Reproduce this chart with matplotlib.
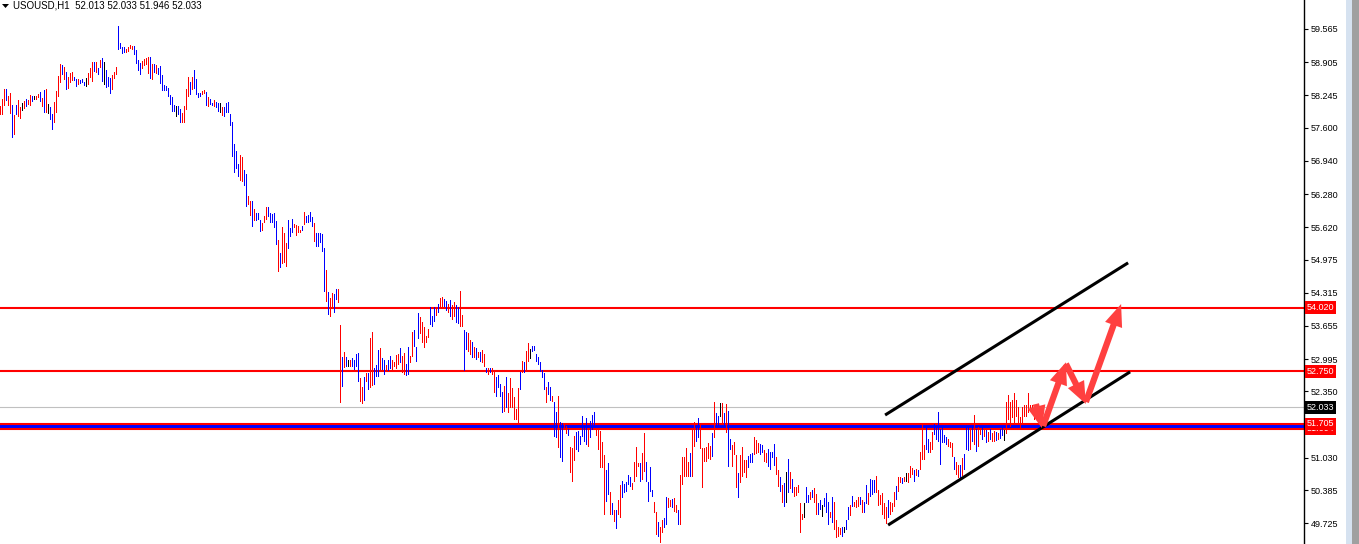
import matplotlib
matplotlib.use("Agg")
import matplotlib.pyplot as plt
import matplotlib.transforms as mtransforms
from matplotlib.patches import Rectangle
import numpy as np

# hourly bars, oldest first (high, low, colour code r/b/k)
highs = [
    58.03, 58.17, 58.37, 58.37, 58.23, 58.29, 58.05, 57.85, 58.05, 58.15,
    58.01, 58.09, 58.13, 58.17, 58.15, 58.25, 58.23, 58.23, 58.23, 58.27,
    58.31, 58.19, 58.35, 58.37, 58.07, 58.01, 57.87, 58.11, 58.33, 58.63,
    58.87, 58.85, 58.81, 58.71, 58.61, 58.69, 58.71, 58.61, 58.57, 58.57,
    58.55, 58.57, 58.51, 58.59, 58.69, 58.79, 58.91, 58.91, 58.91, 58.79,
    58.95, 58.99, 58.91, 58.75, 58.61, 58.59, 58.65, 58.71, 58.81, 59.62,
    59.28, 59.20, 59.20, 59.16, 59.20, 59.24, 59.22, 59.22, 59.15, 58.95,
    58.89, 58.93, 58.97, 58.99, 59.01, 59.01, 58.87, 58.87, 58.85, 58.79,
    58.83, 58.65, 58.45, 58.43, 58.39, 58.25, 58.21, 58.05, 58.03, 58.03,
    57.97, 57.89, 58.03, 58.37, 58.61, 58.51, 58.61, 58.75, 58.57, 58.29,
    58.29, 58.33, 58.35, 58.31, 58.21, 58.17, 58.09, 58.15, 58.11, 58.09,
    58.09, 58.01, 58.01, 58.09, 58.11, 57.87, 57.71, 57.27, 57.14, 56.88,
    57.06, 57.02, 56.76, 56.68, 56.24, 56.14, 56.14, 55.98, 55.90, 55.90,
    55.76, 55.70, 55.84, 56.02, 56.02, 55.90, 55.88, 55.90, 55.74, 55.36,
    55.11, 55.62, 55.50, 55.30, 55.76, 55.60, 55.78, 55.68, 55.66, 55.64,
    55.56, 55.64, 55.92, 55.84, 55.86, 55.92, 55.82, 55.70, 55.50, 55.50,
    55.50, 55.48, 55.20, 54.77, 54.33, 54.21, 54.31, 54.29, 54.39, 54.39,
    53.67, 53.04, 53.14, 53.04, 52.98, 52.98, 53.02, 52.98, 53.10, 53.12,
    52.62, 52.44, 52.64, 52.72, 52.72, 53.41, 53.53, 52.82, 52.88, 53.17,
    53.21, 53.02, 52.98, 52.88, 52.98, 53.06, 52.98, 52.94, 53.08, 53.10,
    53.21, 53.06, 53.12, 52.90, 53.23, 53.06, 53.53, 53.57, 53.23, 53.91,
    53.83, 53.73, 53.63, 53.45, 53.59, 54.03, 53.85, 54.03, 54.03, 54.09,
    54.21, 54.23, 54.19, 54.15, 54.09, 54.17, 54.07, 54.13, 54.07, 54.03,
    54.35, 53.87, 53.57, 53.53, 53.51, 53.37, 53.33, 53.23, 53.21, 53.14,
    53.14, 53.18, 53.10, 52.82, 52.82, 52.82, 52.82, 52.74, 52.64, 52.68,
    52.50, 52.34, 52.46, 52.64, 52.32, 52.62, 52.42, 52.24, 52.00, 52.42,
    52.74, 52.96, 52.94, 53.16, 53.31, 53.19, 53.25, 53.25, 53.10, 53.04,
    52.94, 52.78, 52.72, 52.44, 52.54, 52.44, 52.26, 52.14, 51.94, 52.26,
    51.74, 51.72, 51.68, 51.66, 51.60, 51.24, 51.22, 51.46, 51.54, 51.56,
    51.46, 51.86, 51.68, 51.82, 51.62, 51.76, 51.88, 51.94, 51.62, 51.58,
    51.56, 51.34, 51.09, 50.79, 50.93, 50.35, 50.13, 49.99, 49.99, 50.19,
    50.49, 50.57, 50.51, 50.55, 50.69, 50.65, 50.53, 50.95, 51.24, 50.93,
    50.93, 51.13, 51.52, 50.95, 50.55, 50.85, 50.39, 50.15, 49.95, 49.75,
    49.65, 49.79, 49.83, 50.25, 50.23, 50.19, 50.21, 50.23, 50.09, 49.99,
    50.69, 51.05, 51.05, 51.22, 50.95, 51.13, 51.62, 51.74, 51.64, 51.82,
    51.72, 51.22, 51.22, 51.24, 51.32, 51.26, 51.52, 52.14, 51.92, 51.86,
    52.12, 52.12, 51.92, 52.10, 51.96, 51.40, 51.28, 51.34, 51.09, 50.73,
    51.09, 51.24, 50.99, 50.99, 51.07, 51.11, 51.13, 51.44, 51.38, 51.32,
    51.30, 51.28, 51.18, 51.13, 51.20, 51.15, 51.15, 51.30, 51.05, 50.79,
    50.65, 50.49, 50.53, 50.75, 51.01, 50.75, 50.61, 50.45, 50.45, 50.49,
    50.13, 49.91, 50.13, 50.45, 50.29, 50.35, 50.39, 50.43, 50.31, 50.13,
    50.19, 50.09, 50.23, 50.33, 50.15, 49.95, 50.25, 50.15, 49.79, 49.65,
    49.63, 49.65, 49.65, 49.79, 50.05, 50.09, 50.27, 50.15, 50.19, 50.25,
    50.25, 50.19, 50.15, 50.49, 50.33, 50.61, 50.59, 50.59, 50.67, 50.39,
    50.29, 50.33, 50.13, 50.05, 50.19, 50.15, 50.13, 50.35, 50.47, 50.65,
    50.65, 50.63, 50.65, 50.73, 50.73, 50.87, 50.83, 50.79, 50.81, 50.79,
    51.15, 51.70, 51.28, 51.64, 51.40, 51.34, 51.54, 51.70, 51.64, 51.94,
    51.60, 51.64, 51.48, 51.44, 51.40, 51.34, 51.32, 51.05, 50.95, 50.89,
    50.89, 51.03, 51.11, 51.64, 51.64, 51.62, 51.68, 51.88, 51.60, 51.64,
    51.62, 51.64, 51.58, 51.58, 51.54, 51.60, 51.52, 51.56, 51.54, 51.52,
    51.60, 51.64, 51.58, 52.14, 52.28, 52.14, 52.18, 52.32, 52.18, 52.04,
    51.84, 52.04, 52.08, 52.08, 52.32, 52.08, 52.08, 52.04, 52.04,
]
lows = [
    57.85, 57.85, 58.03, 58.13, 58.03, 57.87, 57.39, 57.45, 57.85, 57.81,
    57.77, 57.93, 57.97, 58.01, 58.05, 58.03, 58.11, 58.15, 58.15, 58.19,
    58.11, 58.01, 57.89, 57.89, 57.87, 57.75, 57.55, 57.69, 57.89, 58.21,
    58.49, 58.65, 58.55, 58.35, 58.37, 58.49, 58.53, 58.53, 58.41, 58.45,
    58.47, 58.49, 58.43, 58.41, 58.45, 58.59, 58.51, 58.71, 58.69, 58.65,
    58.79, 58.51, 58.45, 58.39, 58.41, 58.27, 58.35, 58.57, 58.65, 59.15,
    59.16, 59.07, 59.09, 59.09, 59.11, 59.16, 59.15, 59.05, 58.87, 58.73,
    58.65, 58.77, 58.83, 58.85, 58.67, 58.57, 58.55, 58.69, 58.67, 58.65,
    58.47, 58.33, 58.33, 58.33, 58.21, 58.05, 57.91, 57.91, 57.81, 57.85,
    57.69, 57.69, 57.69, 57.95, 58.21, 58.25, 58.35, 58.37, 58.25, 58.19,
    58.21, 58.25, 58.27, 58.03, 58.01, 58.05, 58.03, 58.01, 57.99, 57.91,
    57.89, 57.83, 57.81, 57.89, 57.89, 57.63, 57.02, 56.70, 56.78, 56.62,
    56.54, 56.52, 56.44, 56.02, 56.06, 55.84, 55.62, 55.74, 55.74, 55.76,
    55.52, 55.54, 55.70, 55.76, 55.82, 55.70, 55.70, 55.60, 55.26, 54.73,
    54.81, 54.89, 54.91, 54.83, 55.18, 55.42, 55.50, 55.60, 55.44, 55.50,
    55.50, 55.54, 55.66, 55.70, 55.70, 55.72, 55.62, 55.32, 55.22, 55.22,
    55.30, 55.13, 54.33, 54.13, 53.87, 53.83, 54.03, 53.91, 54.17, 54.11,
    52.12, 52.44, 52.82, 52.84, 52.84, 52.84, 52.84, 52.78, 52.84, 52.54,
    52.14, 52.10, 52.16, 52.54, 52.38, 52.42, 52.46, 52.48, 52.64, 52.64,
    52.78, 52.78, 52.68, 52.76, 52.76, 52.80, 52.76, 52.84, 52.80, 52.88,
    52.92, 52.72, 52.68, 52.66, 52.68, 52.92, 53.04, 53.23, 52.94, 53.39,
    53.49, 53.31, 53.21, 53.31, 53.41, 53.67, 53.63, 53.73, 53.85, 53.91,
    54.03, 54.01, 54.03, 53.95, 53.91, 53.83, 53.77, 53.83, 53.71, 53.69,
    53.63, 53.63, 52.76, 53.17, 53.14, 53.08, 53.02, 53.02, 52.98, 53.02,
    52.94, 52.92, 52.84, 52.72, 52.68, 52.72, 52.68, 52.32, 52.24, 52.42,
    52.24, 51.92, 51.94, 52.02, 51.92, 52.02, 52.02, 51.78, 51.78, 51.72,
    52.38, 52.72, 52.72, 52.74, 52.94, 53.00, 53.14, 53.16, 52.94, 52.88,
    52.74, 52.62, 52.38, 52.12, 52.28, 52.16, 52.14, 51.44, 51.42, 51.22,
    51.03, 50.95, 51.58, 51.50, 51.46, 50.73, 50.55, 50.97, 51.18, 51.15,
    51.28, 51.44, 51.34, 51.28, 51.24, 51.42, 51.58, 51.68, 51.46, 51.18,
    50.83, 50.83, 49.89, 50.15, 50.29, 49.89, 49.89, 49.75, 49.61, 49.89,
    49.83, 50.23, 50.33, 50.35, 50.49, 50.45, 50.39, 50.55, 50.65, 50.85,
    50.55, 50.59, 50.75, 50.55, 50.15, 50.35, 50.25, 49.93, 49.49, 49.45,
    49.33, 49.53, 49.63, 49.69, 50.03, 50.05, 50.03, 49.95, 49.93, 49.69,
    49.69, 50.49, 50.65, 50.65, 50.65, 50.65, 50.65, 51.24, 51.34, 51.42,
    51.20, 50.43, 50.95, 50.95, 51.01, 50.99, 51.05, 51.42, 51.62, 51.68,
    51.84, 51.72, 51.68, 51.52, 50.85, 51.18, 50.85, 51.09, 50.43, 50.23,
    50.53, 50.65, 50.73, 50.63, 50.83, 50.93, 50.93, 51.09, 51.11, 51.13,
    51.09, 51.13, 50.95, 50.93, 50.85, 50.79, 51.03, 50.87, 50.69, 50.45,
    50.35, 50.13, 50.05, 50.13, 50.33, 50.41, 50.33, 50.25, 50.27, 50.33,
    49.53, 49.79, 49.83, 50.13, 50.13, 50.19, 50.23, 50.13, 49.89, 49.89,
    49.99, 49.85, 50.05, 49.93, 49.69, 49.83, 49.73, 49.59, 49.43, 49.45,
    49.49, 49.45, 49.53, 49.59, 49.79, 49.87, 50.05, 50.05, 50.03, 50.05,
    50.09, 49.93, 49.93, 50.11, 50.09, 50.25, 50.29, 50.33, 50.33, 50.07,
    50.09, 49.89, 49.81, 49.71, 49.83, 49.89, 49.95, 50.05, 50.19, 50.35,
    50.53, 50.51, 50.55, 50.55, 50.53, 50.63, 50.69, 50.55, 50.67, 50.65,
    50.79, 50.99, 50.99, 51.18, 51.13, 51.13, 51.18, 51.48, 51.38, 51.34,
    50.89, 51.32, 51.32, 51.28, 51.24, 51.22, 51.05, 50.79, 50.69, 50.63,
    50.61, 50.67, 50.79, 51.18, 51.17, 51.18, 51.34, 51.28, 51.15, 51.24,
    51.48, 51.38, 51.44, 51.32, 51.34, 51.38, 51.34, 51.34, 51.36, 51.38,
    51.40, 51.46, 51.36, 51.50, 51.78, 51.64, 51.82, 51.72, 51.84, 51.72,
    51.58, 51.72, 51.84, 51.84, 51.92, 51.94, 51.92, 51.78, 51.92,
]
kinds = (
    "rrrbrrbrbrrkrbrrbkrrbrbrkbbrrrrbrbrrrbbrbbbkrrrbrbrbkbbbrrrbbbbrrrrbbbbrrrrbrbrbbbbbbbbbkb"
    "brrrrbrbbbbrrbrbbrbbkrbbbbbbbbrrbbrrbrbbbrrrbbbbbrbrrrbbbrrrrbrbbbbrbbbbbrbrrb"
    "brrbrbkrbbbbrrbrbrrbbbrbbrbbrrrrbrrbbrrbbbrrrrrbbbrbrrbbrbrrbbrrbbrrbrbrbrrbrbrrbbbbrbrrr"
    "rrrbrbrrkbbbbbbbrbbrbbrbbrrbrrrbbbbbbrbbbrrrrrbbrbrbrrbbbbbrrrrbrrbbbbrrbrrbbrrbrrbrrrrrbrr"
    "bbrrrrrrbrbbkrbrbbrrrbrrrrbbbrrrbbrrbbbbrrbrbkbrbrrrrrkbbrbrrbbkbbbrbrrrrbkbbrbrrr"
    "brbbrbbbrrrrrrbrrrbrrbrkrrrbrbrrrbbrrbbbbbbbrrrbrrbrbbbrbrbrrbrbrbrrbrbbkr"
)
assert len(highs) == len(lows)
kinds = (kinds + "r" * len(highs))[:len(highs)]

# title and axis
symbol = "USOUSD,H1"
ohlc_last = [52.013, 52.033, 51.946, 52.033]
yticks = [59.565, 58.905, 58.245, 57.600, 56.940, 56.280, 55.620, 54.975,
          54.315, 53.655, 52.995, 52.350, 51.030, 50.385, 49.725]
ylim = (49.313, 60.142)

# drawn objects
levels_red = [54.020, 52.750]
zone = [51.604, 51.705]
bid = 52.033
channel_upper = [(442.2, 51.88), (563.7, 54.91)]
channel_lower = [(443.7, 49.69), (564.7, 52.74)]
arrows = [
    ((517.6, 52.10), (520.6, 51.62)),
    ((521.2, 51.66), (532.6, 52.93)),
    ((532.6, 52.90), (542.6, 52.10)),
    ((542.6, 52.14), (560.2, 54.09)),
]

W, H = 1359, 544
fig = plt.figure(figsize=(W / 100, H / 100), dpi=100)
fig.patch.set_facecolor("white")
ax = fig.add_axes([0, 0, 1304 / W, 1])
ax.set_facecolor("white")

n = len(highs)
x = np.arange(n)
col_map = {"r": "#ff0000", "b": "#0000ff", "k": "#000000"}
cols = [col_map[c] for c in kinds]
hi = np.array(highs)
lo = np.array(lows)

# levels under the bars
ax.axhline(bid, color="#c0c0c0", lw=0.8, zorder=1)
ax.axhspan(zone[0], zone[1], color="#0000ff", lw=0, zorder=1)
for lv in levels_red + zone:
    ax.axhline(lv, color="#ff0000", lw=1.5, zorder=1.5)

# one pixel wide high-low bars
ax.bar(x, hi - lo, bottom=lo, width=0.6, color=cols, lw=0, antialiased=False, zorder=2)

for seg in (channel_upper, channel_lower):
    (x0, y0), (x1, y1) = seg
    ax.plot([x0, x1], [y0, y1], color="black", lw=2.2, solid_capstyle="butt", zorder=3)

for tail, head in arrows:
    ax.annotate("", xy=head, xytext=tail,
                arrowprops=dict(arrowstyle="simple,head_length=1.6,head_width=1.3,tail_width=0.45",
                                color="#ff4040", mutation_scale=10, shrinkA=0, shrinkB=0, lw=0),
                zorder=4)

ax.set_xlim(-0.35, 1304 / 2 - 0.35)
ax.set_ylim(*ylim)
ax.set_xticks([])
ax.yaxis.tick_right()
ax.set_yticks(yticks)
ax.set_yticklabels([f"{t:.3f}" for t in yticks], fontsize=6.5, family="Liberation Sans")
ax.tick_params(axis="y", direction="out", length=3, width=0.8, pad=2, colors="black")
for s in ("top", "left", "bottom"):
    ax.spines[s].set_visible(False)
ax.spines["right"].set_color("black")
ax.spines["right"].set_linewidth(1.0)

# price tags on the scale (51.604 sits partly under 51.705, as on the terminal)
tr = mtransforms.blended_transform_factory(fig.transFigure, ax.transData)
tags = [(zone[0], "#ff0000"), (zone[1], "#ff0000"), (levels_red[1], "#ff0000"),
        (levels_red[0], "#ff0000"), (bid, "#000000")]
for val, bg in tags:
    ax.text(1307 / W, val, f"{val:.3f}", transform=tr, fontsize=6.5, family="Liberation Sans",
            color="white", va="center", ha="left", clip_on=False, zorder=10,
            bbox=dict(boxstyle="square,pad=0.2", fc=bg, ec="none"))

# title
fig.text(13 / W, 1 - 6 / H, f"{symbol}  " + " ".join(f"{v:.3f}" for v in ohlc_last),
         fontsize=7, family="Liberation Sans", va="center", ha="left")
fig.patches.append(plt.Polygon([[2 / W, 1 - 4 / H], [9 / W, 1 - 4 / H], [5.5 / W, 1 - 8 / H]],
                               closed=True, fc="black", ec="none", transform=fig.transFigure))

# window edge on the right
fig.patches.append(Rectangle((1346 / W, 0), 6 / W, 1, fc="#d6e2f0", ec="none",
                             transform=fig.transFigure))
fig.patches.append(Rectangle((1352 / W, 0), 7 / W, 1, fc="#a0a0a0", ec="none",
                             transform=fig.transFigure))

fig.savefig("out.png", dpi=100)
